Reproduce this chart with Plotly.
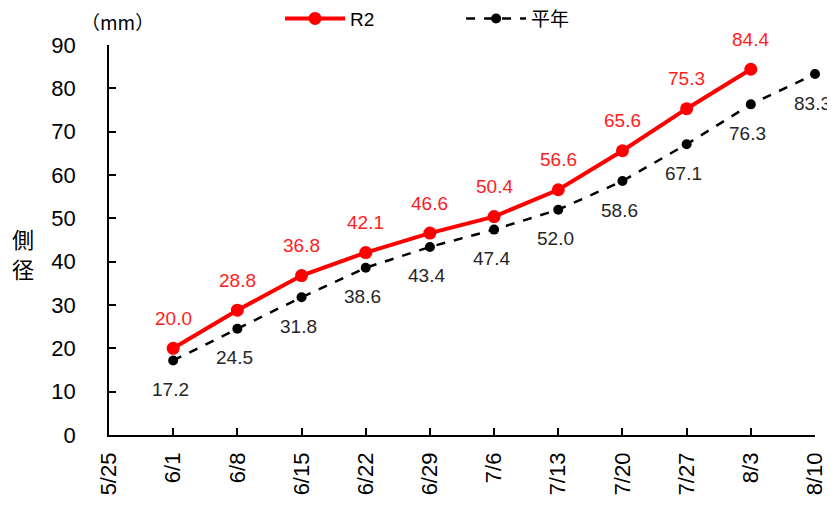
import plotly.graph_objects as go

dates = ["5/25", "6/1", "6/8", "6/15", "6/22", "6/29", "7/6", "7/13", "7/20", "7/27", "8/3", "8/10"]
r2_dates = ["6/1", "6/8", "6/15", "6/22", "6/29", "7/6", "7/13", "7/20", "7/27", "8/3"]
r2_values = [20.0, 28.8, 36.8, 42.1, 46.6, 50.4, 56.6, 65.6, 75.3, 84.4]
avg_dates = ["6/1", "6/8", "6/15", "6/22", "6/29", "7/6", "7/13", "7/20", "7/27", "8/3", "8/10"]
avg_values = [17.2, 24.5, 31.8, 38.6, 43.4, 47.4, 52.0, 58.6, 67.1, 76.3, 83.3]
y_ticks = [0, 10, 20, 30, 40, 50, 60, 70, 80, 90]

FONT = "Liberation Sans, Noto Sans CJK JP, sans-serif"

# page body has an 8px margin; figure is sized to fill the rest of the window
W, H = 827, 505
L, R, T, B = 101, 20, 37, 78
PW, PH = W - L - R, H - T - B


def px_to_paper(X, Y):
    return (X - 8 - L) / PW, (H - B + 8 - Y) / PH


fig = go.Figure()
fig.add_trace(go.Scatter(
    x=avg_dates, y=avg_values, name="平年", mode="lines+markers",
    line=dict(color="black", width=2.5, dash="dash"),
    marker=dict(color="black", size=10), cliponaxis=False,
))
fig.add_trace(go.Scatter(
    x=r2_dates, y=r2_values, name="R2", mode="lines+markers",
    line=dict(color="#FF0000", width=4),
    marker=dict(color="#FF0000", size=13), cliponaxis=False,
))

annotations = []
for d, v in zip(r2_dates, r2_values):
    annotations.append(dict(x=d, y=v, xref="x", yref="y", text=f"{v:.1f}", showarrow=False,
                            yshift=30, font=dict(family=FONT, size=19, color="#FF2020")))
for d, v in zip(avg_dates, avg_values):
    annotations.append(dict(x=d, y=v, xref="x", yref="y", text=f"{v:.1f}", showarrow=False,
                            yshift=-29, xshift=-3, font=dict(family=FONT, size=19, color="#262626")))
mx, my = px_to_paper(117, 22)
annotations.append(dict(x=mx, y=my, xref="paper", yref="paper", xanchor="center", yanchor="middle",
                        text="（mm）", showarrow=False,
                        font=dict(family="Noto Sans CJK JP", size=19, color="black")))
for ch, Y in [("側", 238), ("径", 268)]:
    cx, cy = px_to_paper(23, Y)
    annotations.append(dict(x=cx, y=cy, xref="paper", yref="paper",
                            text=ch, showarrow=False, xanchor="center", yanchor="middle",
                            font=dict(family="Noto Sans CJK JP", size=22, color="black")))

fig.update_layout(
    width=W, height=H,
    margin=dict(l=L, r=R, t=T, b=B, autoexpand=False),
    plot_bgcolor="white", paper_bgcolor="white",
    font=dict(family=FONT, color="black"),
    showlegend=True,
    legend=dict(orientation="h", x=0.329, y=0.979, xref="container", yref="container",
                xanchor="left", yanchor="middle",
                traceorder="reversed", itemwidth=60, entrywidth=106,
                font=dict(family="Liberation Sans, Noto Sans CJK JP", size=19, color="black"),
                bgcolor="rgba(0,0,0,0)"),
    annotations=annotations,
    xaxis=dict(type="category", categoryorder="array", categoryarray=dates,
               tickvals=dates, ticktext=dates, range=[0, 11], automargin=False,
               showline=True, linecolor="black", linewidth=1.5,
               ticks="inside", ticklen=7, tickwidth=1.5, tickcolor="black",
               tickangle=-90, showgrid=False, zeroline=False, ticklabelstandoff=7,
               tickfont=dict(family=FONT, size=22, color="black")),
    yaxis=dict(range=[0, 90], tickvals=y_ticks, automargin=False,
               showline=True, linecolor="black", linewidth=1.5,
               ticks="inside", ticklen=7, tickwidth=1.5, tickcolor="black",
               showgrid=False, zeroline=False, ticklabelstandoff=27,
               tickfont=dict(family=FONT, size=22, color="black")),
)

fig.write_html("out.html")
